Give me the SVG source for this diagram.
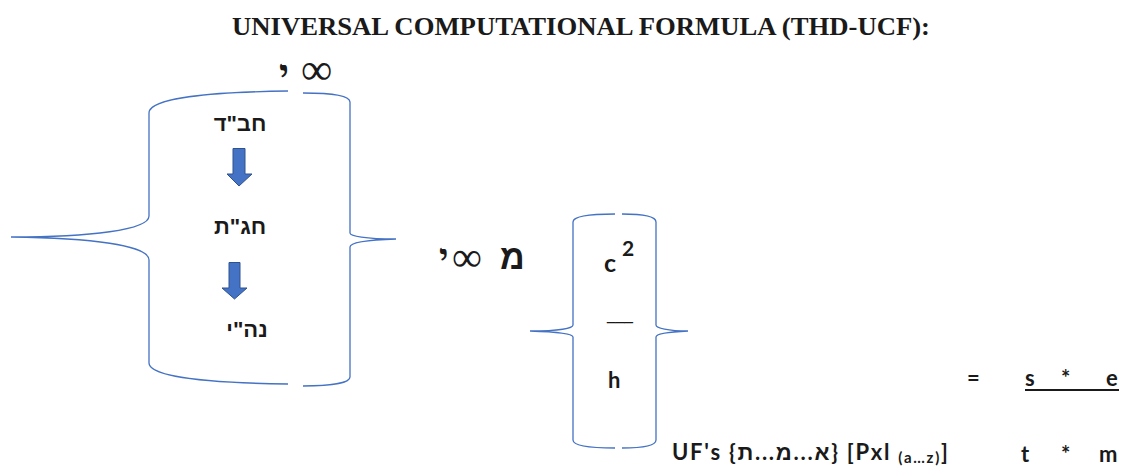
<svg xmlns="http://www.w3.org/2000/svg" width="1123" height="467" viewBox="0 0 1123 467">
<style>
.brace{fill:none;stroke:#4472C4;stroke-width:1.3}
.arrow{fill:#4472C4;stroke:#2F528F;stroke-width:1}
.heb{font-family:"Liberation Sans","DejaVu Sans",sans-serif;font-weight:bold;fill:#1a1a1a}
.hebs{font-family:"Liberation Serif","DejaVu Serif",serif;font-weight:bold;fill:#1a1a1a}
.cal{font-family:Lato,"Liberation Sans","DejaVu Sans",sans-serif;font-weight:bold;fill:#1a1a1a}
.inf{font-family:"Liberation Serif","DejaVu Serif",serif;fill:#1a1a1a}
.title{font-family:"Liberation Serif",serif;font-weight:bold;fill:#1a1a1a}
</style>
<rect width="1123" height="467" fill="#ffffff"/>
<g id="title">
<text class="title" x="232" y="35" font-size="26" textLength="698" lengthAdjust="spacingAndGlyphs">UNIVERSAL COMPUTATIONAL FORMULA (THD-UCF):</text>
</g>
<g id="top-label">
<text class="hebs" x="279" y="86" font-size="38">י</text>
<text class="inf" x="301" y="84" font-size="44">∞</text>
</g>
<g id="big-brace">
<path class="brace" d="M288,91 C210,92 149,98 149,113 L149,216 C149,230 90,237 11,237 C90,238 149,245 149,260 L149,363 C149,377 210,383 288,384"/>
<path class="brace" d="M303,93 C330,93 350,95 350,102 L350,233 C350,236 365,239 396,239 C365,240 350,243 350,247 L350,377 C350,383 330,386 303,386"/>
</g>
<g id="node-chabad">
<text class="heb" x="240" y="131" font-size="22" text-anchor="middle">חב"ד</text>
</g>
<g id="node-chagat">
<text class="heb" x="240" y="234" font-size="22" text-anchor="middle">חג"ת</text>
</g>
<g id="node-nehi">
<text class="heb" x="247" y="337" font-size="22" text-anchor="middle">נה"י</text>
</g>
<g id="connectors">
<path class="arrow" d="M233,148.5 L245,148.5 L245,174 L252,174 L239,186 L227,174 L233,174 Z"/>
<path class="arrow" d="M229,262.5 L240,262.5 L240,288 L247,288 L234.5,299 L222,288 L229,288 Z"/>
</g>
<g id="mem-label">
<text class="hebs" x="439" y="269" font-size="36">י</text>
<text class="inf" x="452" y="271" font-size="42">∞</text>
<text class="heb" x="500" y="269" font-size="34">מ</text>
</g>
<g id="small-brace">
<path class="brace" d="M615,214 C590,214 573,216 573,222 L573,325 C573,328 560,331 530,331 C560,332 573,334 573,337 L573,440 C573,446 590,448 615,448"/>
<path class="brace" d="M622,214 C642,214 656,216 656,222 L656,325 C656,328 668,331 688,331 C668,332 656,334 656,337 L656,440 C656,446 642,448 622,448"/>
</g>
<g id="fraction">
<text class="cal" x="604" y="272" font-size="25">c</text>
<text class="cal" x="622" y="256" font-size="21">2</text>
<text x="607" y="320" font-size="16" font-family="Liberation Sans, sans-serif" fill="#1a1a1a" textLength="26" lengthAdjust="spacingAndGlyphs">___</text>
<text class="cal" x="608" y="388" font-size="22">h</text>
</g>
<g id="uf-label">
<text class="cal" x="672" y="460" font-size="22" textLength="276" lengthAdjust="spacing">UF's {א...מ...ת} [Pxl <tspan font-size="15" dy="3">(a…z)</tspan><tspan dy="-3">]</tspan></text>
</g>
<g id="equation">
<text class="cal" x="967" y="386" font-size="22">=</text>
<text class="cal" x="1025" y="386" font-size="22">s</text>
<text class="cal" x="1061" y="386" font-size="22">*</text>
<text class="cal" x="1106" y="386" font-size="22">e</text>
<line x1="1025" y1="390" x2="1119" y2="390" stroke="#1a1a1a" stroke-width="2"/>
<text class="cal" x="1021" y="462" font-size="22">t</text>
<text class="cal" x="1061" y="462" font-size="22">*</text>
<text class="cal" x="1099" y="462" font-size="22">m</text>
</g>
</svg>
